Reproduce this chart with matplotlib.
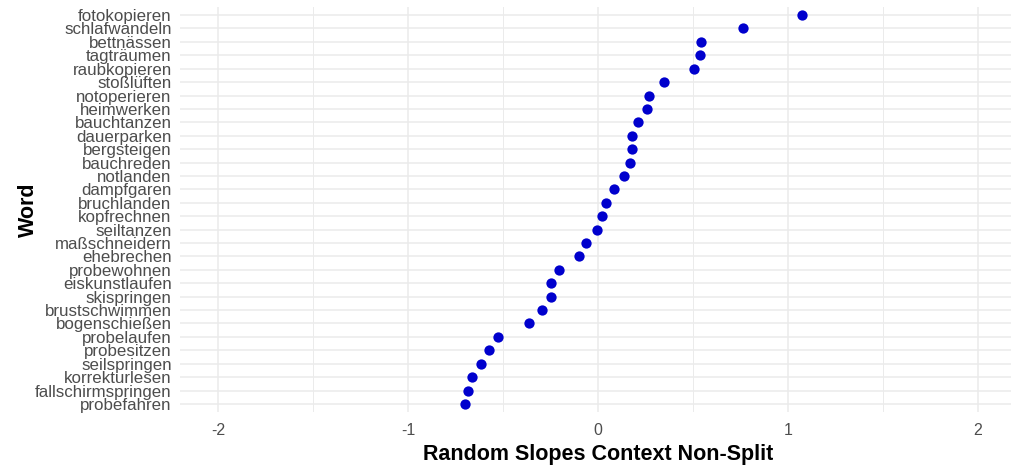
#!/usr/bin/env python3
# ============================================================
#   Dot plot of random slopes per word (context, non-split)
# ============================================================

import matplotlib
matplotlib.use("Agg")
import matplotlib.pyplot as plt
from matplotlib.ticker import MultipleLocator

# DATA (top to bottom as shown in the chart)
words = [
    "fotokopieren", "schlafwandeln", "bettnässen", "tagträumen", "raubkopieren",
    "stoßlüften", "notoperieren", "heimwerken", "bauchtanzen", "dauerparken",
    "bergsteigen", "bauchreden", "notlanden", "dampfgaren", "bruchlanden",
    "kopfrechnen", "seiltanzen", "maßschneidern", "ehebrechen", "probewohnen",
    "eiskunstlaufen", "skispringen", "brustschwimmen", "bogenschießen", "probelaufen",
    "probesitzen", "seilspringen", "korrekturlesen", "fallschirmspringen", "probefahren",
]
slopes = [
    1.076, 0.764, 0.543, 0.537, 0.507,
    0.346, 0.268, 0.259, 0.210, 0.177,
    0.177, 0.170, 0.135, 0.085, 0.040,
    0.020, -0.003, -0.064, -0.101, -0.207,
    -0.249, -0.249, -0.293, -0.363, -0.527,
    -0.576, -0.618, -0.661, -0.683, -0.698,
]
x_ticks = [-2, -1, 0, 1, 2]

# ------------------------------------------------------------
#   FIGURE
# ------------------------------------------------------------
plt.rcParams["font.family"] = ["Liberation Sans", "DejaVu Sans"]

W, H = 1011, 470
fig = plt.figure(figsize=(W / 100, H / 100), dpi=100)
# panel in pixels: left 180, right 1016 (cropped in the reference), top 7, bottom 412
ax = fig.add_axes([180 / W, (H - 412) / H, (1016 - 180) / W, (412 - 7) / H])

# bottom category first so fotokopieren ends up on top
ax.scatter(slopes[::-1], words[::-1], s=55, color="mediumblue", zorder=3, linewidths=0)

ax.set_xlim(-2.2, 2.2)
ax.set_ylim(-0.6, len(words) - 0.4)
ax.set_xticks(x_ticks)
ax.set_xticklabels([str(t) for t in x_ticks])
ax.xaxis.set_minor_locator(MultipleLocator(0.5))

# theme_minimal look
for s in ax.spines.values():
    s.set_visible(False)
ax.grid(True, which="major", axis="both", color="#EBEBEB", linewidth=1.1, zorder=0)
ax.grid(True, which="minor", axis="x", color="#EBEBEB", linewidth=0.7, zorder=0)
ax.set_axisbelow(True)
ax.tick_params(axis="both", which="both", length=0)
ax.tick_params(axis="y", labelsize=12.2, labelcolor="#4D4D4D", pad=6)
ax.tick_params(axis="x", labelsize=11.5, labelcolor="#4D4D4D", pad=8)

ax.set_xlabel("Random Slopes Context Non-Split", fontsize=15.5, fontweight="bold", labelpad=4)
ax.set_ylabel("Word", fontsize=15.5, fontweight="bold")
ax.yaxis.set_label_coords(-0.169, 0.5)

fig.savefig("out.png", dpi=100)
